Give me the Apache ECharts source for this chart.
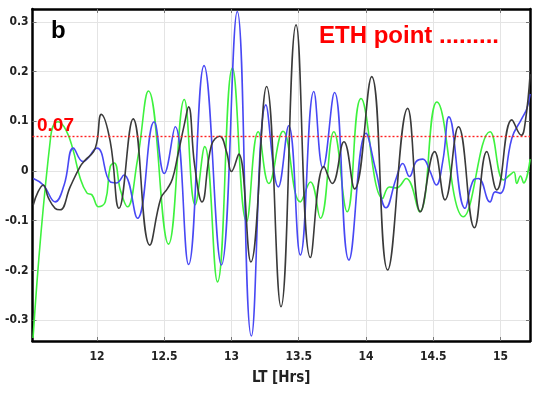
<!DOCTYPE html>
<html><head><meta charset="utf-8">
<script src="https://cdn.jsdelivr.net/npm/echarts@6/dist/echarts.min.js"></script>
<style>html,body{margin:0;padding:0;background:#fff}#c{width:533px;height:394px}</style>
</head><body><div id="c"></div>
<script>
const xTicks = [12, 12.5, 13, 13.5, 14, 14.5, 15];
const yTicks = [-0.3, -0.2, -0.1, 0, 0.1, 0.2, 0.3];
const thresholdValue = 0.07;
const xLabel = 'LT [Hrs]';
const panelLabel = 'b';
const noteLabel = 'ETH point .........';

const greenData = [
  [11.525,-0.336],[11.657,0.071],[11.711,0.099],[11.771,0.082],[11.823,0.042],[11.875,-0.014],
  [11.925,-0.044],[11.963,-0.048],[12.012,-0.072],[12.062,-0.062],[12.099,0.009],[12.129,0.016],
  [12.174,-0.038],[12.226,-0.072],[12.301,0.022],[12.383,0.161],[12.532,-0.147],[12.649,0.144],
  [12.730,-0.068],[12.801,0.049],[12.896,-0.223],[13.007,0.207],[13.112,-0.102],[13.199,0.079],
  [13.278,-0.025],[13.383,0.080],[13.512,-0.062],[13.587,-0.022],[13.661,-0.095],[13.761,0.079],
  [13.860,-0.082],[13.963,0.146],[14.124,-0.055],[14.174,-0.032],[14.226,-0.034],[14.299,-0.015],
  [14.398,-0.082],[14.527,0.139],[14.724,-0.092],[14.922,0.079],[15.022,-0.018],[15.069,-0.008],
  [15.099,-0.002],[15.121,-0.025],[15.148,-0.010],[15.172,-0.024],[15.22,0.024]
];
const blueData = [
  [11.527,-0.015],[11.601,-0.028],[11.689,-0.062],[11.756,-0.028],[11.825,0.046],[11.896,0.019],
  [12.000,0.046],[12.099,-0.022],[12.144,-0.024],[12.201,-0.008],[12.301,-0.095],[12.425,0.099],
  [12.500,-0.005],[12.582,0.089],[12.681,-0.188],[12.796,0.212],[12.925,-0.189],[13.043,0.321],
  [13.148,-0.332],[13.256,0.133],[13.348,-0.032],[13.425,0.091],[13.512,-0.169],[13.612,0.160],
  [13.679,0.006],[13.766,0.158],[13.873,-0.179],[14.000,0.076],[14.075,-0.001],[14.149,-0.074],
  [14.224,-0.015],[14.273,0.015],[14.323,-0.011],[14.373,0.019],[14.422,0.024],[14.472,0.002],
  [14.522,-0.028],[14.572,0.022],[14.616,0.109],[14.736,-0.075],[14.799,-0.018],[14.836,-0.015],
  [14.922,-0.062],[14.960,-0.042],[14.997,-0.045],[15.084,0.066],[15.159,0.106],[15.196,0.126],
  [15.22,0.155]
];
const blackData = [
  [11.527,-0.068],[11.562,-0.042],[11.601,-0.028],[11.639,-0.054],[11.689,-0.075],[11.726,-0.078],
  [11.801,-0.032],[11.875,0.009],[11.913,0.022],[11.975,0.039],[12.000,0.059],[12.032,0.114],
  [12.099,0.059],[12.164,-0.075],[12.269,0.105],[12.393,-0.149],[12.475,-0.055],[12.525,-0.035],
  [12.562,-0.015],[12.599,0.029],[12.649,0.093],[12.681,0.129],[12.726,0.012],[12.781,-0.062],
  [12.851,0.052],[12.913,0.070],[12.963,0.039],[13.000,-0.001],[13.054,0.034],[13.144,-0.183],
  [13.261,0.170],[13.368,-0.273],[13.480,0.294],[13.587,-0.174],[13.687,0.009],[13.749,-0.025],
  [13.836,0.059],[13.915,-0.036],[14.042,0.190],[14.161,-0.199],[14.310,0.126],[14.405,-0.082],
  [14.510,0.039],[14.587,-0.058],[14.687,0.089],[14.806,-0.114],[14.898,0.039],[14.972,-0.038],
  [15.084,0.103],[15.154,0.072],[15.184,0.099],[15.22,0.195]
];

const FONT = "'Liberation Sans Narrow','DejaVu Sans Condensed','Liberation Sans',Arial,sans-serif";
const fmt = v => String(Math.round(v * 10) / 10);
const xMin = 11.521, xMax = 15.219, yMin = -0.342, yMax = 0.326;

function lineSeries(name, data, color, extra) {
  return Object.assign({
    name, type: 'line', data, smooth: 0.45, showSymbol: false, symbol: 'none',
    lineStyle: { color, width: 1.6 }, itemStyle: { color }, clip: true, animation: false
  }, extra || {});
}
function fmtThreshold(v) { return v.toFixed(2); }

const chart = echarts.init(document.getElementById('c'), null, { renderer: 'canvas' });
chart.setOption({
  backgroundColor: '#fff',
  animation: false,
  grid: { left: 32.5, right: 3, top: 9, bottom: 53, containLabel: false },
  xAxis: [
    {
      type: 'value', min: xMin, max: xMax, position: 'bottom',
      name: xLabel, nameLocation: 'middle', nameGap: 30,
      nameTextStyle: { fontFamily: FONT, fontWeight: 'bold', fontSize: 15, color: '#222' },
      axisLine: { show: true, onZero: false, lineStyle: { color: '#000', width: 2.5 } },
      axisTick: { show: true, inside: true, length: 4, customValues: xTicks, lineStyle: { color: '#777' } },
      axisLabel: { customValues: xTicks, formatter: fmt, margin: 10, fontFamily: FONT, fontWeight: 'bold', fontSize: 12, color: '#222' },
      splitLine: { show: true, lineStyle: { color: '#e4e4e4', width: 1 } }
    },
    {
      type: 'value', min: xMin, max: xMax, position: 'top',
      axisLine: { show: true, onZero: false, lineStyle: { color: '#000', width: 2.5 } },
      axisTick: { show: true, inside: true, length: 4, customValues: xTicks, lineStyle: { color: '#777' } },
      axisLabel: { show: false }, splitLine: { show: false }
    }
  ],
  yAxis: [
    {
      type: 'value', min: yMin, max: yMax, position: 'left',
      axisLine: { show: true, onZero: false, lineStyle: { color: '#000', width: 2.5 } },
      axisTick: { show: true, inside: true, length: 4, customValues: yTicks, lineStyle: { color: '#777' } },
      axisLabel: { customValues: yTicks, formatter: fmt, margin: 4, fontFamily: FONT, fontWeight: 'bold', fontSize: 12, color: '#222' },
      splitLine: { show: true, lineStyle: { color: '#e4e4e4', width: 1 } }
    },
    {
      type: 'value', min: yMin, max: yMax, position: 'right',
      axisLine: { show: true, onZero: false, lineStyle: { color: '#000', width: 2.5 } },
      axisTick: { show: true, inside: true, length: 4, customValues: yTicks, lineStyle: { color: '#777' } },
      axisLabel: { show: false }, splitLine: { show: false }
    }
  ],
  series: [
    lineSeries('green', greenData, '#3ef23e', {
      markLine: {
        silent: true, symbol: 'none', animation: false, label: { show: false },
        lineStyle: { color: '#ff2020', type: [2, 2], width: 1.4 },
        data: [{ yAxis: thresholdValue }]
      }
    }),
    lineSeries('blue', blueData, '#4848f4'),
    lineSeries('black', blackData, '#3a3a3a')
  ],
  graphic: [
    { type: 'text', x: 51, y: 31, z: 100,
      style: { text: panelLabel, font: "bold 24px 'Liberation Sans',Arial,sans-serif", fill: '#000', verticalAlign: 'middle' } },
    { type: 'text', x: 319, y: 36, z: 100,
      style: { text: noteLabel, font: "bold 24px 'Liberation Sans',Arial,sans-serif", fill: '#ff0000', verticalAlign: 'middle' } },
    { type: 'text', x: 37, y: 126, z: 100,
      style: { text: fmtThreshold(thresholdValue), font: "bold 19px 'Liberation Sans',Arial,sans-serif", fill: '#ff0000', verticalAlign: 'middle' } }
  ]
});
</script>
</body></html>
